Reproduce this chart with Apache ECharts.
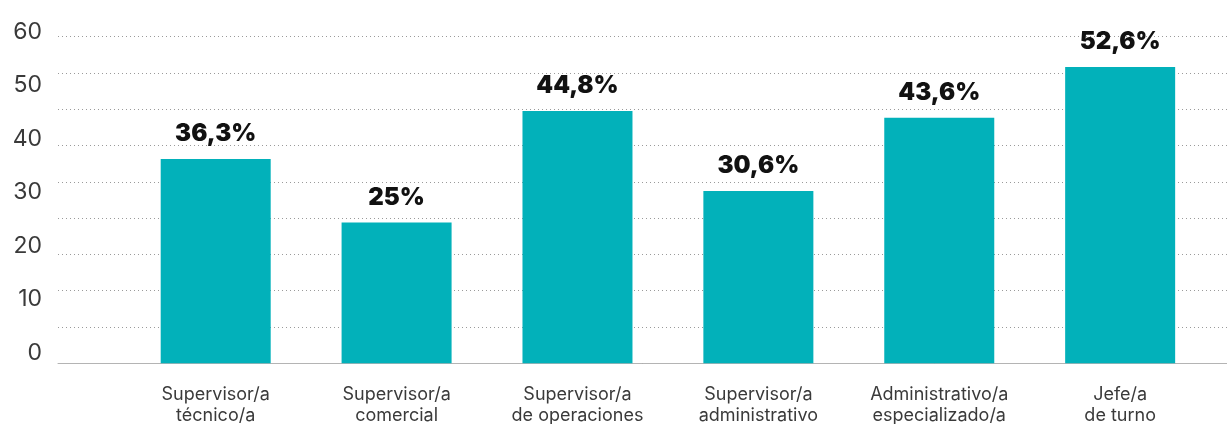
<!DOCTYPE html>
<html>
<head>
<meta charset="utf-8">
<script src="https://cdn.jsdelivr.net/npm/echarts@6/dist/echarts.min.js"></script>
<style>
  html, body { margin: 0; padding: 0; background: #ffffff; }
  #chart { width: 1227px; height: 424px; }
</style>
</head>
<body>
<div id="chart"></div>
<script>
// Puestos y porcentaje de cada uno
const categories = [
  'Supervisor/a\ntécnico/a',
  'Supervisor/a\ncomercial',
  'Supervisor/a\nde operaciones',
  'Supervisor/a\nadministrativo',
  'Administrativo/a\nespecializado/a',
  'Jefe/a\nde turno'
];
const values = [36.3, 25, 44.8, 30.6, 43.6, 52.6];
const tickLabels = [0, 10, 20, 30, 40, 50, 60];

const FONT = 'Inter, "Noto Sans", sans-serif';
const BAR_MAX = 58;           // valor en la línea superior de la rejilla
const GRID_STEPS = 9;         // líneas punteadas

const chart = echarts.init(document.getElementById('chart'), null, { renderer: 'canvas' });

chart.setOption({
  animation: false,
  backgroundColor: '#ffffff',
  grid: [
    // rejilla punteada y línea base
    { left: 58, right: 0, top: 36.7, bottom: 60.7, outerBoundsMode: 'none' },
    // barras
    { left: 125.25, right: 16.4, top: 36.7, bottom: 60.7, outerBoundsMode: 'none' },
    // escala de la izquierda
    { left: 58, right: 0, top: 32, bottom: 71, outerBoundsMode: 'none' }
  ],
  xAxis: [
    {
      gridIndex: 0, type: 'value', min: 0, max: 1,
      axisLine: { show: true, lineStyle: { color: '#b4b4b4', width: 1 } },
      axisTick: { show: false }, axisLabel: { show: false }, splitLine: { show: false }
    },
    {
      gridIndex: 1, type: 'category', data: categories,
      axisLine: { show: false }, axisTick: { show: false },
      axisLabel: {
        margin: 21, color: '#3a3a3a', fontFamily: FONT, fontSize: 18,
        lineHeight: 21, interval: 0
      }
    },
    {
      gridIndex: 2, type: 'value', show: false
    }
  ],
  yAxis: [
    {
      gridIndex: 0, type: 'value', min: 0, max: BAR_MAX, interval: BAR_MAX / GRID_STEPS,
      axisLine: { show: false }, axisTick: { show: false }, axisLabel: { show: false },
      splitLine: { show: true, lineStyle: { color: '#9a9a9a', width: 1, type: [1, 3] } }
    },
    {
      gridIndex: 1, type: 'value', min: 0, max: BAR_MAX, show: false
    },
    {
      gridIndex: 2, type: 'value', min: tickLabels[0], max: tickLabels[tickLabels.length - 1],
      interval: tickLabels[1] - tickLabels[0],
      axisLine: { show: false }, axisTick: { show: false }, splitLine: { show: false },
      axisLabel: {
        show: true, margin: 16, color: '#3a3a3a',
        fontFamily: FONT, fontSize: 23
      }
    }
  ],
  series: [
    {
      type: 'bar',
      xAxisIndex: 1, yAxisIndex: 1,
      data: values,
      barWidth: 110,
      itemStyle: { color: '#02b1ba' },
      label: {
        show: true, position: 'top', distance: 13,
        color: '#111111', fontFamily: FONT, fontSize: 24, fontWeight: 900,
        formatter: p => String(p.value).replace('.', ',') + '%'
      }
    }
  ]
});
</script>
</body>
</html>
